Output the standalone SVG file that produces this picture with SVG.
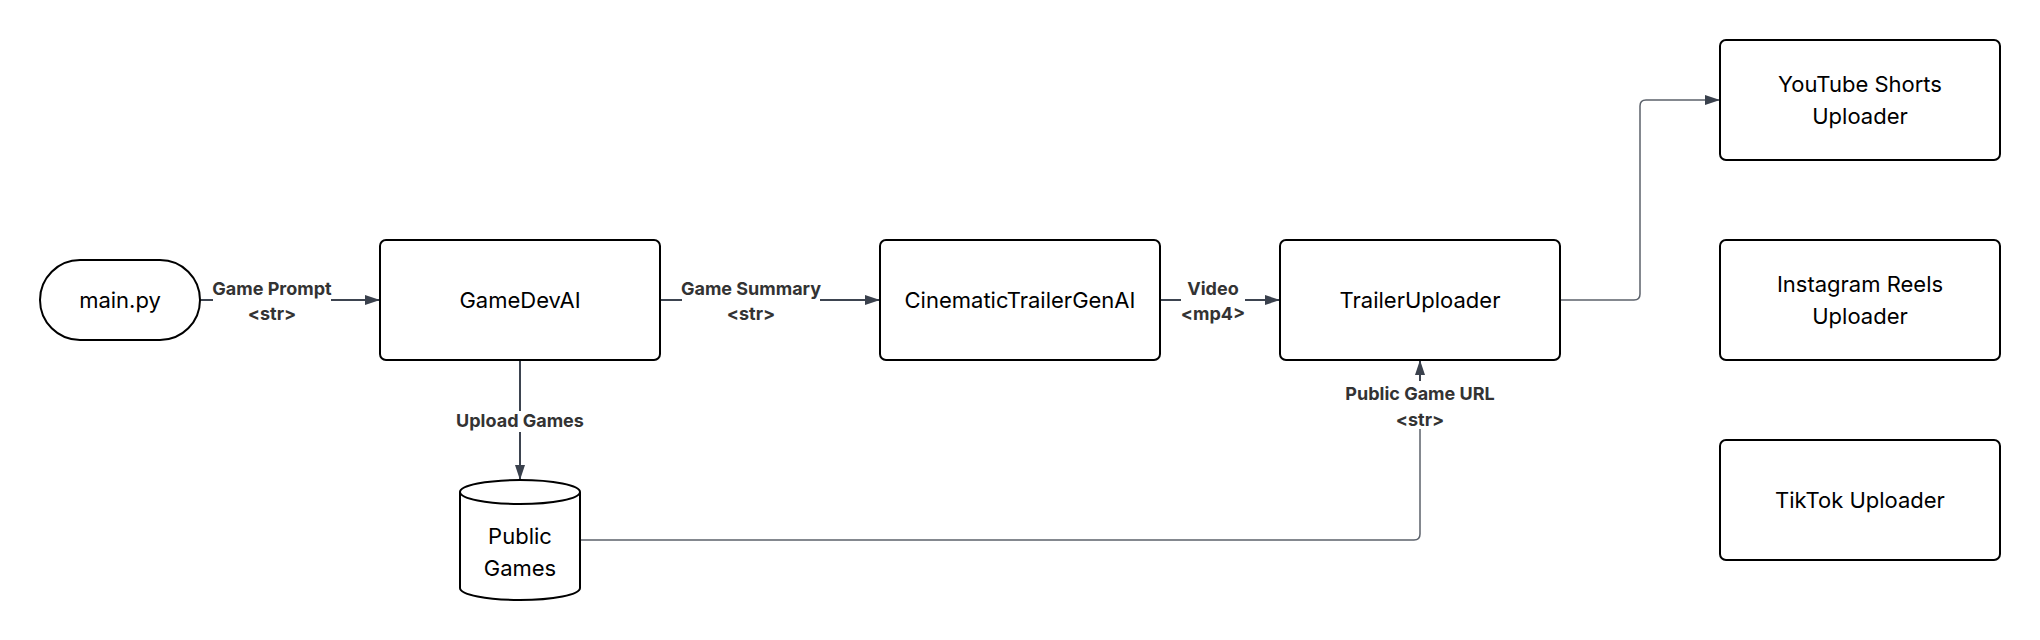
<svg xmlns="http://www.w3.org/2000/svg" width="2040" height="640" viewBox="0 0 2040 640">
  <defs>
    <marker id="arrow" markerUnits="userSpaceOnUse" markerWidth="15" markerHeight="10" refX="15" refY="5" orient="auto">
      <path d="M0,0 L15,5 L0,10 z" fill="#3a414d"/>
    </marker>
    <style>
      .node { fill: #ffffff; stroke: #000000; stroke-width: 2; }
      .ntext { font-family: Inter, "Liberation Sans", sans-serif; font-size: 22px; fill: #000000; text-anchor: middle; }
      .label { font-family: Inter, "Liberation Sans", sans-serif; font-size: 18px; font-weight: 700; fill: #333333; text-anchor: middle; }
      .conn { fill: none; stroke: #3d4450; stroke-width: 2; }
      .elbow { fill: none; stroke: #5c626b; stroke-width: 1.5; }
    </style>
  </defs>
  <rect width="2040" height="640" fill="#ffffff"/>

  <g id="connectors">
    <!-- main.py -> GameDevAI -->
    <path class="conn" d="M200,300 L213,300"/>
    <path class="conn" d="M331,300 L380,300" marker-end="url(#arrow)"/>
    <text class="label" x="272" y="295">Game Prompt</text>
    <text class="label" x="272" y="320">&lt;str&gt;</text>

    <!-- GameDevAI -> CinematicTrailerGenAI -->
    <path class="conn" d="M660,300 L682,300"/>
    <path class="conn" d="M820,300 L880,300" marker-end="url(#arrow)"/>
    <text class="label" x="751" y="295">Game Summary</text>
    <text class="label" x="751" y="320">&lt;str&gt;</text>

    <!-- CinematicTrailerGenAI -> TrailerUploader -->
    <path class="conn" d="M1160,300 L1181,300"/>
    <path class="conn" d="M1245,300 L1280,300" marker-end="url(#arrow)"/>
    <text class="label" x="1213" y="295">Video</text>
    <text class="label" x="1213" y="320">&lt;mp4&gt;</text>

    <!-- GameDevAI -> Public Games -->
    <path class="conn" d="M520,360 L520,411"/>
    <path class="conn" d="M520,432 L520,480" marker-end="url(#arrow)"/>
    <text class="label" x="520" y="427">Upload Games</text>

    <!-- Public Games -> TrailerUploader -->
    <path class="elbow" d="M580,540 L1414,540 Q1420,540 1420,534 L1420,429"/>
    <path class="conn" d="M1420,381 L1420,360" marker-end="url(#arrow)"/>
    <text class="label" x="1420" y="400">Public Game URL</text>
    <text class="label" x="1420" y="426">&lt;str&gt;</text>

    <!-- TrailerUploader -> YouTube Shorts Uploader -->
    <path class="elbow" d="M1560,300 L1634,300 Q1640,300 1640,294 L1640,106 Q1640,100 1646,100 L1720,100" marker-end="url(#arrow)"/>
  </g>

  <g id="main-py">
    <rect class="node" x="40" y="260" width="160" height="80" rx="40" ry="40"/>
    <text class="ntext" x="120" y="308">main.py</text>
  </g>

  <g id="gamedevai">
    <rect class="node" x="380" y="240" width="280" height="120" rx="6" ry="6"/>
    <text class="ntext" x="520" y="308">GameDevAI</text>
  </g>

  <g id="cinematic-trailer-gen-ai">
    <rect class="node" x="880" y="240" width="280" height="120" rx="6" ry="6"/>
    <text class="ntext" x="1020" y="308">CinematicTrailerGenAI</text>
  </g>

  <g id="trailer-uploader">
    <rect class="node" x="1280" y="240" width="280" height="120" rx="6" ry="6"/>
    <text class="ntext" x="1420" y="308">TrailerUploader</text>
  </g>

  <g id="youtube-shorts-uploader">
    <rect class="node" x="1720" y="40" width="280" height="120" rx="6" ry="6"/>
    <text class="ntext" x="1860" y="92">YouTube Shorts</text>
    <text class="ntext" x="1860" y="124">Uploader</text>
  </g>

  <g id="instagram-reels-uploader">
    <rect class="node" x="1720" y="240" width="280" height="120" rx="6" ry="6"/>
    <text class="ntext" x="1860" y="292">Instagram Reels</text>
    <text class="ntext" x="1860" y="324">Uploader</text>
  </g>

  <g id="tiktok-uploader">
    <rect class="node" x="1720" y="440" width="280" height="120" rx="6" ry="6"/>
    <text class="ntext" x="1860" y="508">TikTok Uploader</text>
  </g>

  <g id="public-games">
    <path class="node" d="M460,492 A60,12 0 0 1 580,492 L580,588 A60,12 0 0 1 460,588 Z"/>
    <path fill="none" stroke="#000000" stroke-width="2" d="M460,492 A60,12 0 0 0 580,492"/>
    <text class="ntext" x="520" y="544">Public</text>
    <text class="ntext" x="520" y="576">Games</text>
  </g>
</svg>
